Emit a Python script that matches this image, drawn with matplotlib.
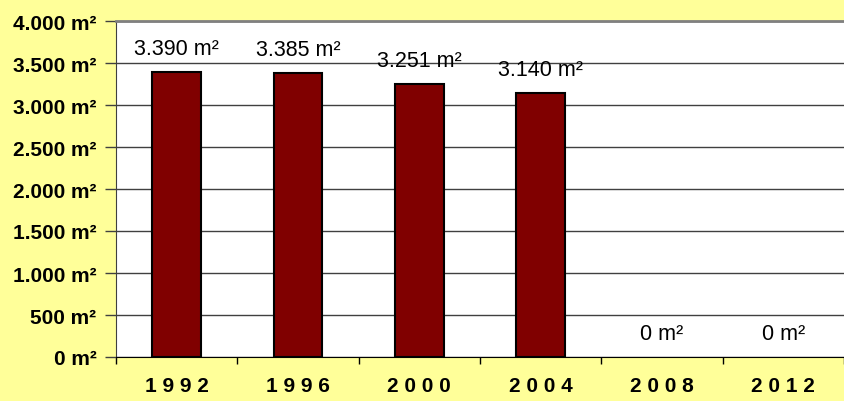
import matplotlib.pyplot as plt
import numpy as np

anos = ['1 9 9 2', '1 9 9 6', '2 0 0 0', '2 0 0 4', '2 0 0 8', '2 0 1 2']
superficie = [3390, 3385, 3251, 3140, 0, 0]
etiquetas = ['3.390 m²', '3.385 m²', '3.251 m²', '3.140 m²', '0 m²', '0 m²']
ticks_y = [0, 500, 1000, 1500, 2000, 2500, 3000, 3500, 4000]

plt.rcParams['font.family'] = ['Liberation Sans', 'DejaVu Sans']

fig = plt.figure(figsize=(8.44, 4.02), dpi=100, facecolor='#FFFF99')
ax = fig.add_axes([116/844, 44/402, 728/844, 336/402])
ax.set_facecolor('white')

x = np.arange(len(anos))
bordes = ['black' if v > 0 else 'none' for v in superficie]
ax.bar(x, superficie, width=0.4, color='#800000', edgecolor=bordes, linewidth=1.5, zorder=3)

for xi, v, t in zip(x, superficie, etiquetas):
    ax.annotate(t, (xi, v), xytext=(0, 17), textcoords='offset points',
                ha='center', va='center', fontsize=15.5, zorder=4)

ax.set_xlim(-0.5, 5.5)
ax.set_ylim(0, 4000)
ax.set_yticks(ticks_y)
ax.set_yticklabels([f'{t:,}'.replace(',', '.') + ' m²' for t in ticks_y],
                   fontsize=15, fontweight='bold')
ax.yaxis.grid(True, color='#404040', linewidth=1, zorder=0)

ax.set_xticks(x)
ax.set_xticklabels(anos, fontsize=15, fontweight='bold')
ax.tick_params(axis='x', which='major', length=0, pad=14)
ax.set_xticks(np.arange(-0.5, 6, 1), minor=True)
ax.tick_params(axis='x', which='minor', length=5, width=1, color='black', direction='out')
ax.tick_params(axis='y', length=8, width=1, color='#404040', pad=6)

ax.spines['top'].set_color('#808080')
ax.spines['top'].set_linewidth(2)
ax.spines['right'].set_visible(False)
ax.spines['left'].set_color('#404040')
ax.spines['bottom'].set_color('black')

fig.savefig('out.png', dpi=100, facecolor=fig.get_facecolor())
